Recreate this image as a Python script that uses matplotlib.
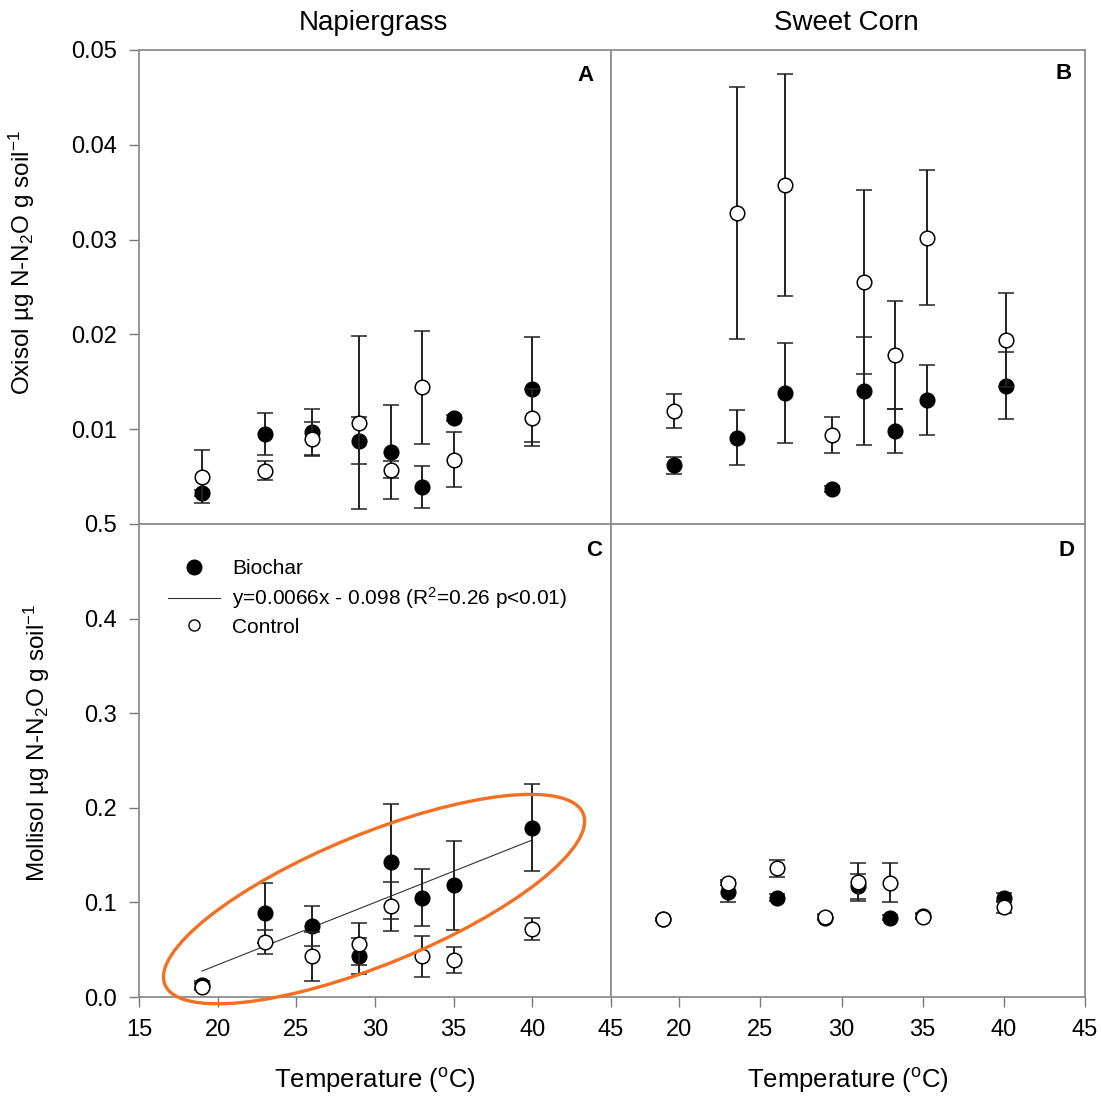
"""N2O fluxes vs temperature: Oxisol / Mollisol, Napiergrass / Sweet Corn."""

import matplotlib

matplotlib.use("Agg")
import matplotlib.pyplot as plt
from matplotlib.lines import Line2D
from matplotlib.patches import Ellipse

plt.rcParams["font.family"] = ["Liberation Sans", "DejaVu Sans"]
plt.rcParams["mathtext.fontset"] = "custom"
plt.rcParams["mathtext.rm"] = "Liberation Sans"
plt.rcParams["mathtext.it"] = "Liberation Sans:italic"

TEMPS = [19, 23, 26, 29, 31, 33, 35, 40]

# Panel A: Oxisol, Napiergrass
A_BIOCHAR = [0.0033, 0.0095, 0.0097, 0.0088, 0.0076, 0.0039, 0.0112, 0.0142]
A_BIOCHAR_ERR = [0.0003, 0.0022, 0.0024, 0.0025, 0.0050, 0.0022, 0.0003, 0.0055]
A_CONTROL = [0.0050, 0.0056, 0.0090, 0.0107, 0.0057, 0.0144, 0.0068, 0.0112]
A_CONTROL_ERR = [0.0028, 0.0010, 0.0018, 0.0091, 0.0009, 0.0060, 0.0029, 0.0030]

# Panel B: Oxisol, Sweet Corn
B_BIOCHAR = [0.0062, 0.0091, 0.0138, 0.0037, 0.0140, 0.0098, 0.0131, 0.0146]
B_BIOCHAR_ERR = [0.0009, 0.0029, 0.0053, 0.0003, 0.0057, 0.0023, 0.0037, 0.0035]
B_CONTROL = [0.0119, 0.0328, 0.0358, 0.0094, 0.0255, 0.0178, 0.0302, 0.0194]
B_CONTROL_ERR = [0.0018, 0.0133, 0.0117, 0.0019, 0.0097, 0.0057, 0.0071, 0.0050]

# Panel C: Mollisol, Napiergrass
C_BIOCHAR = [0.013, 0.089, 0.075, 0.043, 0.143, 0.105, 0.118, 0.179]
C_BIOCHAR_ERR = [0.004, 0.032, 0.021, 0.019, 0.061, 0.030, 0.047, 0.046]
C_CONTROL = [0.011, 0.058, 0.043, 0.056, 0.096, 0.043, 0.039, 0.072]
C_CONTROL_ERR = [0.004, 0.013, 0.026, 0.022, 0.026, 0.022, 0.014, 0.012]

# Panel D: Mollisol, Sweet Corn
D_BIOCHAR = [0.082, 0.111, 0.105, 0.084, 0.117, 0.084, 0.086, 0.105]
D_BIOCHAR_ERR = [0.002, 0.011, 0.004, 0.003, 0.013, 0.003, 0.003, 0.005]
D_CONTROL = [0.082, 0.121, 0.136, 0.085, 0.122, 0.121, 0.085, 0.095]
D_CONTROL_ERR = [0.002, 0.003, 0.009, 0.003, 0.020, 0.021, 0.003, 0.006]

# Linear fit shown in panel C (biochar)
FIT_SLOPE = 0.0066
FIT_INTERCEPT = -0.098
FIT_RANGE = [19, 40]

SPINE = "#8f8f8f"
ORANGE = "#f36f21"
MARKER_SIZE = 10.5


def scatter_with_err(ax, y, yerr, filled):
    ax.errorbar(
        TEMPS,
        y,
        yerr=yerr,
        fmt="o",
        color="#111111",
        ecolor="#222222",
        elinewidth=1.4,
        capsize=6,
        capthick=1.6,
        markersize=MARKER_SIZE,
        markerfacecolor="black" if filled else "white",
        markeredgecolor="black",
        markeredgewidth=1.1,
        zorder=3 if filled else 4,
        clip_on=False,
    )


def style_axes(ax, xlim, ylim):
    ax.set_xlim(*xlim)
    ax.set_ylim(*ylim)
    for spine in ax.spines.values():
        spine.set_color(SPINE)
        spine.set_linewidth(1.3)
    ax.tick_params(
        direction="out",
        length=7,
        width=1.0,
        color="#777777",
        labelsize=17,
        pad=9,
    )


def panel_letter(ax, letter, x, y):
    ax.text(x, y, letter, transform=ax.transAxes, ha="center", va="center",
            fontsize=16, fontweight="bold")


def main():
    W, H = 1101, 1098
    fig = plt.figure(figsize=(W / 100, H / 100), dpi=100)

    left, mid_x, right = 139, 611, 1085
    top, mid_y, bottom = 50, 524, 997

    def rect(x0, x1, y0, y1):
        return [x0 / W, 1 - y1 / H, (x1 - x0) / W, (y1 - y0) / H]

    ax_a = fig.add_axes(rect(left, mid_x, top, mid_y))
    ax_b = fig.add_axes(rect(mid_x, right, top, mid_y))
    ax_c = fig.add_axes(rect(left, mid_x, mid_y, bottom))
    ax_d = fig.add_axes(rect(mid_x, right, mid_y, bottom))

    # Top row: Oxisol
    style_axes(ax_a, (15, 45), (0, 0.05))
    ax_a.set_xticks([])
    ax_a.set_yticks([0.01, 0.02, 0.03, 0.04, 0.05])
    ax_a.set_yticklabels(["0.01", "0.02", "0.03", "0.04", "0.05"])
    scatter_with_err(ax_a, A_BIOCHAR, A_BIOCHAR_ERR, True)
    scatter_with_err(ax_a, A_CONTROL, A_CONTROL_ERR, False)
    panel_letter(ax_a, "A", 0.945, 0.947)

    style_axes(ax_b, (15, 45), (0, 0.05))
    ax_b.set_xticks([])
    ax_b.set_yticks([])
    scatter_with_err(ax_b, B_BIOCHAR, B_BIOCHAR_ERR, True)
    scatter_with_err(ax_b, B_CONTROL, B_CONTROL_ERR, False)
    panel_letter(ax_b, "B", 0.954, 0.951)

    # Bottom row: Mollisol
    style_axes(ax_c, (15, 45), (0, 0.5))
    ax_c.set_xticks([15, 20, 25, 30, 35, 40, 45])
    ax_c.set_yticks([0.0, 0.1, 0.2, 0.3, 0.4, 0.5])
    ax_c.set_yticklabels(["0.0", "0.1", "0.2", "0.3", "0.4", "0.5"])
    scatter_with_err(ax_c, C_BIOCHAR, C_BIOCHAR_ERR, True)
    scatter_with_err(ax_c, C_CONTROL, C_CONTROL_ERR, False)
    fit_y = [FIT_SLOPE * x + FIT_INTERCEPT for x in FIT_RANGE]
    ax_c.plot(FIT_RANGE, fit_y, color="#333333", linewidth=0.8, zorder=2)
    panel_letter(ax_c, "C", 0.964, 0.943)

    style_axes(ax_d, (15.8, 45), (0, 0.5))
    ax_d.set_xticks([20, 25, 30, 35, 40, 45])
    ax_d.set_yticks([])
    scatter_with_err(ax_d, D_BIOCHAR, D_BIOCHAR_ERR, True)
    scatter_with_err(ax_d, D_CONTROL, D_CONTROL_ERR, False)
    panel_letter(ax_d, "D", 0.962, 0.943)

    for ax in (ax_c, ax_d):
        ax.set_xlabel("Temperature ($^{\\mathrm{o}}$C)", fontsize=18.5, labelpad=18)

    # Highlight ellipse around the biochar trend
    ax_c.add_patch(Ellipse(
        (0.498, 0.207), 0.957, 0.276, angle=22.2,
        transform=ax_c.transAxes, fill=False, edgecolor=ORANGE,
        linewidth=2.4, clip_on=False, zorder=5,
    ))

    handles = [
        Line2D([], [], color="black", marker="o", linestyle="None",
               markersize=MARKER_SIZE, label="Biochar"),
        Line2D([], [], color="#333333", linewidth=0.8,
               label="y=0.0066x - 0.098 (R$^2$=0.26 p<0.01)"),
        Line2D([], [], color="black", marker="o", linestyle="None",
               markerfacecolor="white", markeredgewidth=1.0, markersize=8,
               label="Control"),
    ]
    ax_c.legend(
        handles=handles,
        loc="upper left",
        bbox_to_anchor=(0.061, 0.925),
        frameon=False,
        fontsize=15,
        borderpad=0,
        borderaxespad=0,
        handlelength=2.5,
        handletextpad=0.6,
        labelspacing=0.32,
    )

    fig.text(373 / W, 1 - 23 / H, "Napiergrass", ha="center", va="center", fontsize=20)
    fig.text(846 / W, 1 - 23 / H, "Sweet Corn", ha="center", va="center", fontsize=20)
    fig.text(22 / W, 1 - 263 / H, "Oxisol µg N-N$_2$O g soil$^{-1}$",
             rotation=90, ha="center", va="center", fontsize=17.5)
    fig.text(37 / W, 1 - 743 / H, "Mollisol µg N-N$_2$O g soil$^{-1}$",
             rotation=90, ha="center", va="center", fontsize=17.5)

    fig.savefig("out.png", dpi=100, facecolor="white")
    plt.close(fig)


if __name__ == "__main__":
    main()
